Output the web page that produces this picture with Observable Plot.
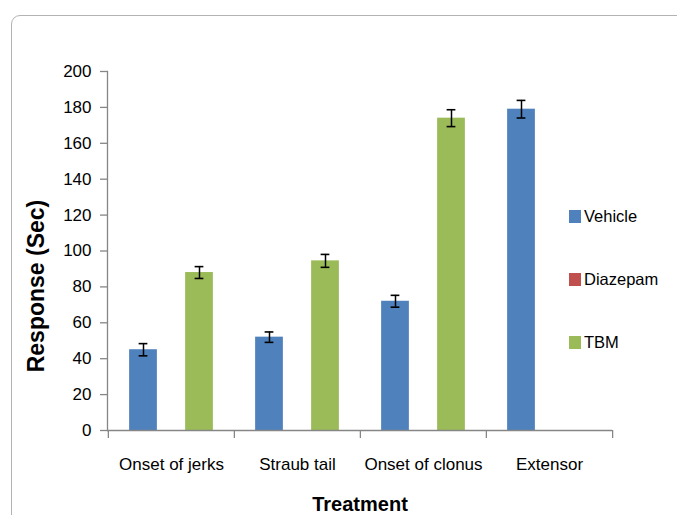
<!DOCTYPE html>
<html>
<head>
<meta charset="utf-8">
<script src="https://cdn.jsdelivr.net/npm/d3@7"></script>
<script src="https://cdn.jsdelivr.net/npm/@observablehq/plot@0.6"></script>
<style>
  html, body { margin: 0; padding: 0; background: #fff; overflow: hidden; }
  #wrap { position: relative; width: 677px; height: 515px; font-family: "Liberation Sans", Arial, sans-serif; }
  #frame { position: absolute; left: 11px; top: 15px; width: 700px; height: 560px; border: 1px solid #b3b3b3; border-radius: 9px; box-sizing: border-box; }
  #chart { position: absolute; left: 0; top: 0; }
  #chart svg { font-family: "Liberation Sans", Arial, sans-serif; }
  g[aria-label="x-axis label"] text { font-weight: bold; font-size: 20px; fill: #000; }
  #legend { position: absolute; left: 569px; top: 0; font-size: 16.5px; line-height: 20px; color: #000; }
  .li { position: absolute; left: 0; height: 20px; white-space: nowrap; display: flex; align-items: center; }
  .sw { width: 12px; height: 13px; margin-right: 3px; }
</style>
</head>
<body>
<div id="wrap">
  <div id="frame"></div>
  <div id="chart"></div>
  <div id="legend"></div>
</div>
<script>
const categories = ["Onset of jerks", "Straub tail", "Onset of clonus", "Extensor"];
const seriesNames = ["Vehicle", "Diazepam", "TBM"];
const seriesColors = ["#4F81BD", "#C0504D", "#9BBB59"];
const vehicle = [45, 52, 72, 179];
const vehicleErr = [3.4, 2.9, 3.3, 4.9];
const diazepam = [0, 0, 0, 0];
const diazepamErr = [0, 0, 0, 0];
const tbm = [88, 94.5, 174, 0];
const tbmErr = [3.3, 3.6, 4.7, 0];
const yTicks = [0, 20, 40, 60, 80, 100, 120, 140, 160, 180, 200];
const yLabel = "Response (Sec)";
const xLabel = "Treatment";

const seriesValues = [vehicle, diazepam, tbm];
const seriesErrs = [vehicleErr, diazepamErr, tbmErr];
const rows = [];
seriesNames.forEach((s, si) => {
  categories.forEach((c, ci) => {
    rows.push({series: s, si, category: c, value: seriesValues[si][ci], err: seriesErrs[si][ci]});
  });
});

const W = 677, H = 515;
const mL = 107, mR = 65, mT = 71, mB = 85;
const band = (W - mL - mR) / categories.length;
const barW = 28;
const pad = (band - 3 * barW) / 2;
const gray = "#868686";

const marks = [];
seriesNames.forEach((s, si) => {
  const data = rows.filter(r => r.series === s);
  const left = pad + si * barW;
  const offset = left + barW / 2 - band / 2;
  marks.push(Plot.barY(data, {
    x: "category", y: "value", fill: seriesColors[si],
    insetLeft: left, insetRight: band - left - barW
  }));
  const withErr = data.filter(d => d.value > 0 && d.err > 0);
  marks.push(Plot.ruleX(withErr, {
    x: "category", y1: d => d.value - d.err, y2: d => d.value + d.err,
    dx: offset, stroke: "#000", strokeWidth: 1.5
  }));
  for (const key of ["lo", "hi"]) {
    marks.push(Plot.tickY(withErr, {
      x: "category", y: d => key === "lo" ? d.value - d.err : d.value + d.err,
      dx: offset, insetLeft: band / 2 - 4.5, insetRight: band / 2 - 4.5,
      stroke: "#000", strokeWidth: 1.6
    }));
  }
});

const chart = Plot.plot({
  width: W, height: H,
  marginLeft: mL, marginRight: mR, marginTop: mT, marginBottom: mB,
  style: {fontSize: "17px", color: "#000", background: "transparent", overflow: "visible"},
  x: {domain: categories, padding: 0, axis: null},
  y: {domain: [0, 200], axis: null},
  marks: [
    ...marks,
    Plot.frame({anchor: "left", stroke: gray, strokeWidth: 1.3}),
    Plot.ruleY([0], {stroke: gray, strokeWidth: 1.3}),
    Plot.axisY({ticks: yTicks, tickSize: 7, tickPadding: 9, stroke: gray, strokeWidth: 1.3,
      label: null, fontSize: 17}),
    Plot.text([yLabel], {text: d => d, frameAnchor: "left", rotate: -90, dx: -71, dy: 35,
      fontSize: 23, fontWeight: "bold", fill: "#000", textAnchor: "middle"}),
    Plot.axisX({tickSize: 0, tickPadding: 27, label: xLabel, labelAnchor: "center",
      labelOffset: 80, labelArrow: false, fontSize: 17}),
    Plot.axisX({ticks: categories, tickSize: 8, tickFormat: () => "", dx: -band / 2, stroke: gray, strokeWidth: 1.3, label: null}),
    Plot.axisX({ticks: [categories[categories.length - 1]], tickSize: 8, tickFormat: () => "", dx: band / 2, stroke: gray, strokeWidth: 1.3, label: null})
  ]
});
document.getElementById("chart").appendChild(chart);

const legend = document.getElementById("legend");
const legendY = [216, 279, 342];
seriesNames.forEach((s, i) => {
  const div = document.createElement("div");
  div.className = "li";
  div.style.top = (legendY[i] - 10) + "px";
  div.innerHTML = `<span class="sw" style="background:${seriesColors[i]}"></span><span>${s}</span>`;
  legend.appendChild(div);
});
</script>
</body>
</html>
